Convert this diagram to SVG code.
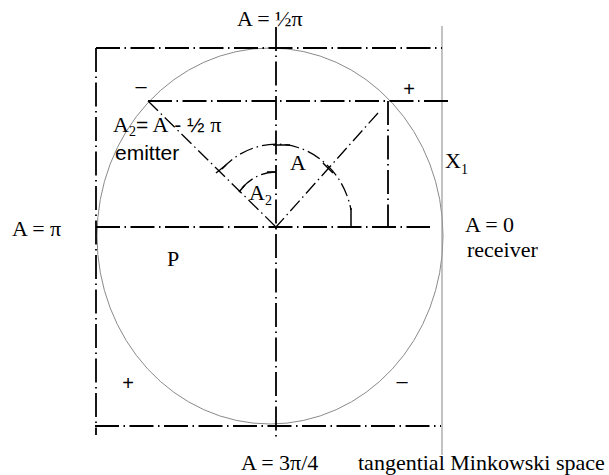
<svg xmlns="http://www.w3.org/2000/svg" width="609" height="475" viewBox="0 0 609 475">
<style>
.dd{fill:none;stroke:#000;stroke-width:1.8;stroke-dasharray:24 4.5 1.5 4.5}
.dt{fill:none;stroke:#000;stroke-width:1.3;stroke-dasharray:14 4 1.5 4}
.tk{fill:none;stroke:#000;stroke-width:1.5}
.circ{fill:none;stroke:#8a8a8a;stroke-width:1}
.thin{fill:none;stroke:#9a9a9a;stroke-width:1.2}
.t{font-family:"Liberation Serif","Times New Roman",serif;font-size:22px;fill:#000}
.s{font-family:"Liberation Sans",Arial,sans-serif;font-size:21px;fill:#000}
.pm{font-family:"Liberation Sans",Arial,sans-serif;font-size:20px;fill:#000;text-anchor:middle}
</style>
<rect width="609" height="475" fill="#fff"/>
<g id="circle"><ellipse class="circ" cx="270" cy="236" rx="173" ry="188"/></g>
<g id="tangent-line"><line class="thin" x1="442" y1="26" x2="442" y2="455"/></g>
<g id="connectors">
<line class="dd" x1="96" y1="48" x2="442" y2="48"/>
<line class="dd" x1="96" y1="48" x2="96" y2="435"/>
<line class="dd" x1="95" y1="426" x2="441" y2="426"/>
<line class="dd" x1="276" y1="27" x2="276" y2="440"/>
<line class="dd" x1="96" y1="227" x2="430" y2="227"/>
<line class="dd" x1="148" y1="101" x2="451" y2="101"/>
<line class="dd" x1="388" y1="101" x2="388" y2="227"/>
<line class="dt" x1="148" y1="101" x2="276" y2="227"/>
<line class="dt" x1="378" y1="113" x2="276" y2="227"/>
<path class="dt" d="M222,169 A76,82 0 0 1 351,210"/>
<path class="dt" d="M242,188 A48,55 0 0 1 276,172"/>
<line class="tk" x1="273" y1="145" x2="290" y2="145"/>
<line class="tk" x1="323" y1="163" x2="333" y2="173"/>
<line class="tk" x1="351" y1="208" x2="351" y2="227"/>
<line class="tk" x1="267" y1="172" x2="276" y2="172"/>
<line class="tk" x1="216" y1="173" x2="226" y2="165"/>
<line class="tk" x1="239" y1="192" x2="245" y2="185"/>
</g>
<g id="labels">
<text class="t" x="237" y="26">A = ½π</text>
<text class="t" x="12" y="236">A = π</text>
<text class="t" x="167" y="266">P</text>
<text class="t" x="465" y="232">A = 0</text>
<text class="t" x="467" y="257">receiver</text>
<text class="t" x="445" y="168" font-size="24">X<tspan font-size="14" dy="6">1</tspan></text>
<text class="t" x="290" y="170" font-size="24">A</text>
<text class="t" x="249" y="200">A<tspan font-size="14" dy="5">2</tspan></text>
<text class="t" x="113" y="132">A<tspan font-size="14" dy="4">2</tspan><tspan dy="-4" font-family="Liberation Sans, sans-serif" font-size="21">=</tspan> A<tspan font-family="Liberation Sans, sans-serif" font-size="21"> - ½ </tspan>π</text>
<text class="s" x="115" y="160">emitter</text>
<text class="t" x="241" y="470">A = 3π/4</text>
<text class="t" x="358" y="470">tangential Minkowski space</text>
<text class="pm" x="409" y="96">+</text>
<text class="pm" x="141" y="93">–</text>
<text class="pm" x="128" y="390">+</text>
<text class="pm" x="402" y="388">–</text>
</g>
</svg>
